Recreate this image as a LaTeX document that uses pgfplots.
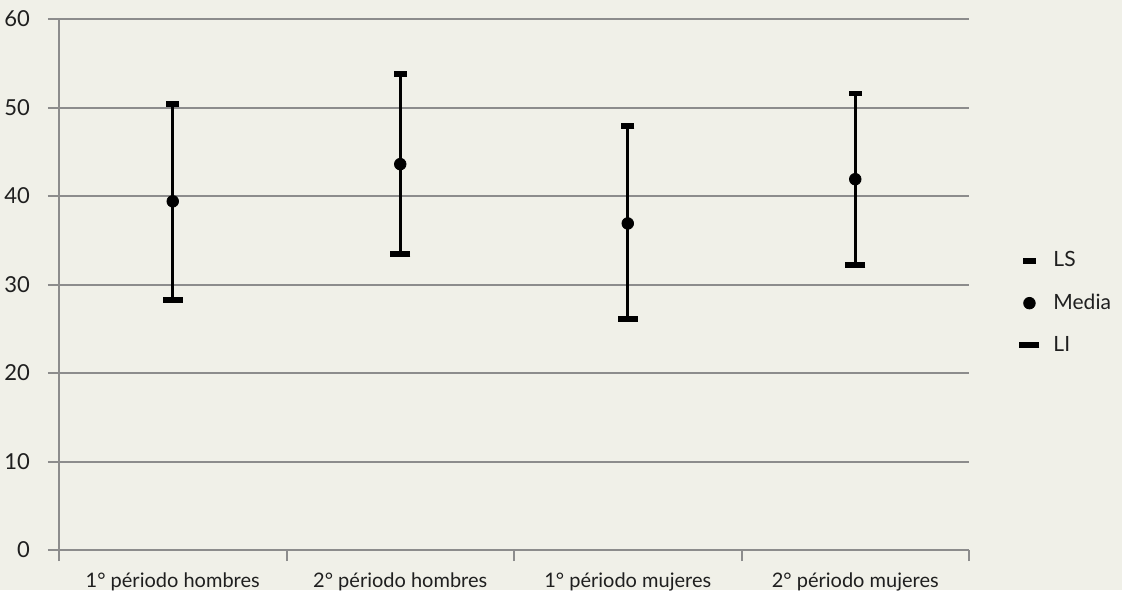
\documentclass[border=0pt]{standalone}
\usepackage{pgfplots}
\pgfplotsset{compat=1.18}
\usepackage{pgfplotstable}
\usepackage{fontspec}
\setmainfont{Lato}
\usetikzlibrary{backgrounds}

\definecolor{bg}{RGB}{240,240,232}
\definecolor{gridgray}{RGB}{140,140,140}

% x = category position, li = lower limit, med = mean, ls = upper limit
\pgfplotstableread{
x    li    med   ls
0.5  28.3  39.4  50.4
1.5  33.4  43.6  53.8
2.5  26.1  36.9  47.9
3.5  32.2  41.9  51.6
}\datos

\begin{document}
\begin{tikzpicture}
\begin{axis}[
    scale only axis,
    width=455pt, height=265.5pt,
    xmin=0, xmax=4, ymin=0, ymax=60,
    axis lines*=left,
    axis line style={gridgray, line width=1pt},
    tick style={gridgray, line width=1pt},
    tick align=outside,
    major tick length=5.5pt,
    xtick={0,1,2,3,4},
    xticklabels={1° périodo hombres, 2° périodo hombres, 1° périodo mujeres, 2° périodo mujeres},
    x tick label as interval,
    ytick={0,10,...,60},
    ymajorgrids,
    grid style={gridgray, line width=1pt},
    tick label style={font=\fontsize{10}{12}\selectfont, text=black!88},
    xticklabel style={yshift=-2.2pt},
    yticklabel style={font=\fontsize{11}{13}\selectfont, xshift=-5.5pt},
    /pgf/number format/assume math mode=true,
    clip=false,
    legend style={at={(1.055,0.465)}, anchor=west, draw=none, fill=none,
        font=\fontsize{10.5}{12}\selectfont, row sep=8pt, column sep=5pt,
        inner sep=0pt, text=black!88},
    legend cell align=left,
]
\addplot[forget plot, draw=none, mark=none,
    error bars/.cd, y dir=both, y explicit, error mark=none,
    error bar style={draw=black, line width=1.5pt, solid}]
    table[x=x, y=med,
          y error plus expr=\thisrow{ls}-\thisrow{med},
          y error minus expr=\thisrow{med}-\thisrow{li}] {\datos};
\addplot[only marks, mark=-, mark size=3.25pt, black,
    mark options={line width=2.75pt}] table[x=x, y=ls] {\datos};
\addplot[only marks, mark=*, mark size=2.9pt, black] table[x=x, y=med] {\datos};
\addplot[only marks, mark=-, mark size=5pt, black,
    mark options={line width=3pt}] table[x=x, y=li] {\datos};
\legend{LS, Media, LI}
\end{axis}
\begin{scope}[on background layer]
\fill[bg] (-29.5pt,-20pt) rectangle (531.5pt,275pt);
\end{scope}
\pgfresetboundingbox
\path[use as bounding box] (-29.5pt,-20pt) rectangle (531.5pt,275pt);
\end{tikzpicture}
\end{document}
